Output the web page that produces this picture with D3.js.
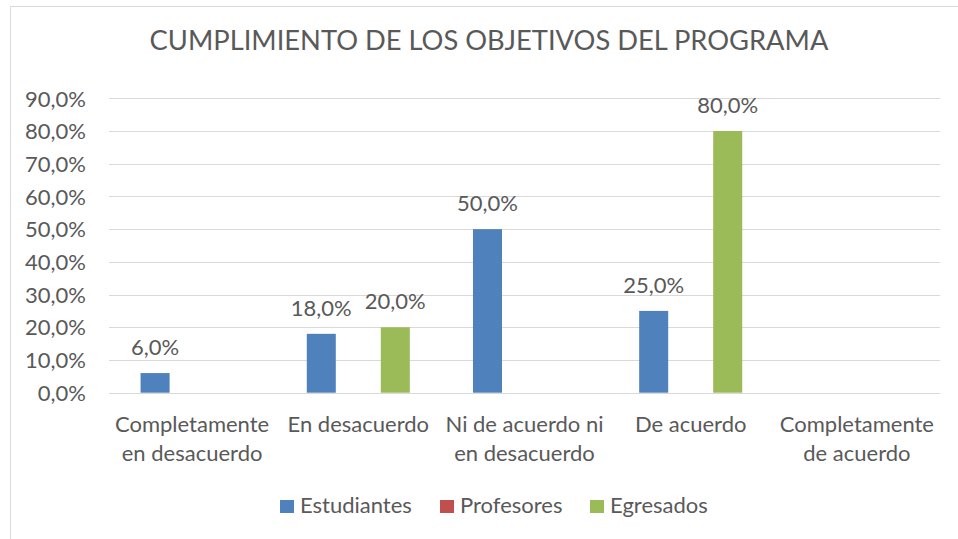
<!DOCTYPE html>
<html lang="es">
<head>
<meta charset="utf-8"/>
<title>Cumplimiento de los objetivos del programa</title>
<script src="https://d3js.org/d3.v7.min.js"></script>
<style>
  body { margin: 0; background: #fff; }
  text { font-family: Lato, "Open Sans", sans-serif; fill: #595959; }
  .grid line { stroke: #d9d9d9; stroke-width: 1; }
  .axis .domain { display: none; }
</style>
</head>
<body>
<div id="chart"></div>
<script>
// data
var categories = ["Completamente en desacuerdo", "En desacuerdo", "Ni de acuerdo ni en desacuerdo", "De acuerdo", "Completamente de acuerdo"];
var catLines = [["Completamente", "en desacuerdo"], ["En desacuerdo"], ["Ni de acuerdo ni", "en desacuerdo"], ["De acuerdo"], ["Completamente", "de acuerdo"]];
var series = ["Estudiantes", "Profesores", "Egresados"];
var estudiantes = [6, 18, 50, 25, null];
var profesores = [null, null, null, null, null];
var egresados = [null, 20, null, 80, null];
var yTicks = [0, 10, 20, 30, 40, 50, 60, 70, 80, 90];
var colors = ["#4f81bd", "#c0504d", "#9bbb59"];

var values = [estudiantes, profesores, egresados];

var width = 958, height = 539;
var fs = 22;

var svg = d3.select("#chart").append("svg")
  .attr("width", width)
  .attr("height", height);

// chart frame (only left and top edges are visible)
svg.append("path")
  .attr("d", "M10.5,539V6.5H958")
  .attr("fill", "none")
  .attr("stroke", "#d9d9d9");

var x0 = d3.scaleBand()
  .domain(categories)
  .range([109, 940]);

var x1 = d3.scaleBand()
  .domain(series)
  .range([0, x0.bandwidth() * 0.62])
  .paddingInner(0.216);

var y = d3.scaleLinear()
  .domain([0, 90])
  .range([392.7, 98.3]);

var fmt = function(v) { return d3.format(".1f")(v).replace(".", ",") + "%"; };

// gridlines
svg.append("g")
  .attr("class", "grid")
  .selectAll("line")
  .data(yTicks)
  .enter().append("line")
    .attr("x1", 109)
    .attr("x2", 940)
    .attr("y1", function(d) { return Math.round(y(d)) + 0.5; })
    .attr("y2", function(d) { return Math.round(y(d)) + 0.5; });

// y axis labels
var yAxis = svg.append("g")
  .attr("class", "axis")
  .attr("transform", "translate(86,0)")
  .call(d3.axisLeft(y).tickValues(yTicks).tickSize(0).tickPadding(0).tickFormat(fmt));
yAxis.selectAll("text")
  .attr("font-size", fs)
  .attr("font-family", null)
  .attr("dy", "0.35em");

// bars
var groups = svg.append("g")
  .selectAll("g")
  .data(series)
  .enter().append("g")
    .attr("fill", function(d, i) { return colors[i]; });

var groupOffset = (x0.bandwidth() - x0.bandwidth() * 0.62) / 2;

groups.each(function(s, si) {
  var pts = categories.map(function(c, ci) { return { cat: c, v: values[si][ci] }; })
    .filter(function(d) { return d.v != null; });

  d3.select(this).selectAll("rect")
    .data(pts)
    .enter().append("rect")
      .attr("x", function(d) { return x0(d.cat) + groupOffset + x1(s); })
      .attr("width", x1.bandwidth())
      .attr("y", function(d) { return y(d.v); })
      .attr("height", function(d) { return y(0) - y(d.v); });

  // data labels
  svg.append("g").selectAll("text")
    .data(pts)
    .enter().append("text")
      .attr("x", function(d) { return x0(d.cat) + groupOffset + x1(s) + x1.bandwidth() / 2; })
      .attr("y", function(d) { return y(d.v) - 18; })
      .attr("text-anchor", "middle")
      .attr("font-size", fs)
      .text(function(d) { return fmt(d.v); });
});

// category labels
var catG = svg.append("g")
  .selectAll("text")
  .data(categories)
  .enter().append("text")
    .attr("x", function(d) { return x0(d) + x0.bandwidth() / 2; })
    .attr("y", 432)
    .attr("text-anchor", "middle")
    .attr("font-size", fs);

catG.selectAll("tspan")
  .data(function(d, i) { return catLines[i]; })
  .enter().append("tspan")
    .attr("x", function() { return d3.select(this.parentNode).attr("x"); })
    .attr("dy", function(d, i) { return i ? 29 : 0; })
    .text(function(d) { return d; });

// title
svg.append("text")
  .attr("x", 489)
  .attr("y", 50)
  .attr("text-anchor", "middle")
  .attr("font-size", 27.3)
  .text("CUMPLIMIENTO DE LOS OBJETIVOS DEL PROGRAMA");

// legend
var legendX = [280, 440, 590];
var legend = svg.append("g")
  .selectAll("g")
  .data(series)
  .enter().append("g")
    .attr("transform", function(d, i) { return "translate(" + legendX[i] + ",500)"; });

legend.append("rect")
  .attr("width", 14)
  .attr("height", 13)
  .attr("fill", function(d, i) { return colors[i]; });

legend.append("text")
  .attr("x", 20)
  .attr("y", 13)
  .attr("font-size", fs)
  .text(function(d) { return d; });
</script>
</body>
</html>
